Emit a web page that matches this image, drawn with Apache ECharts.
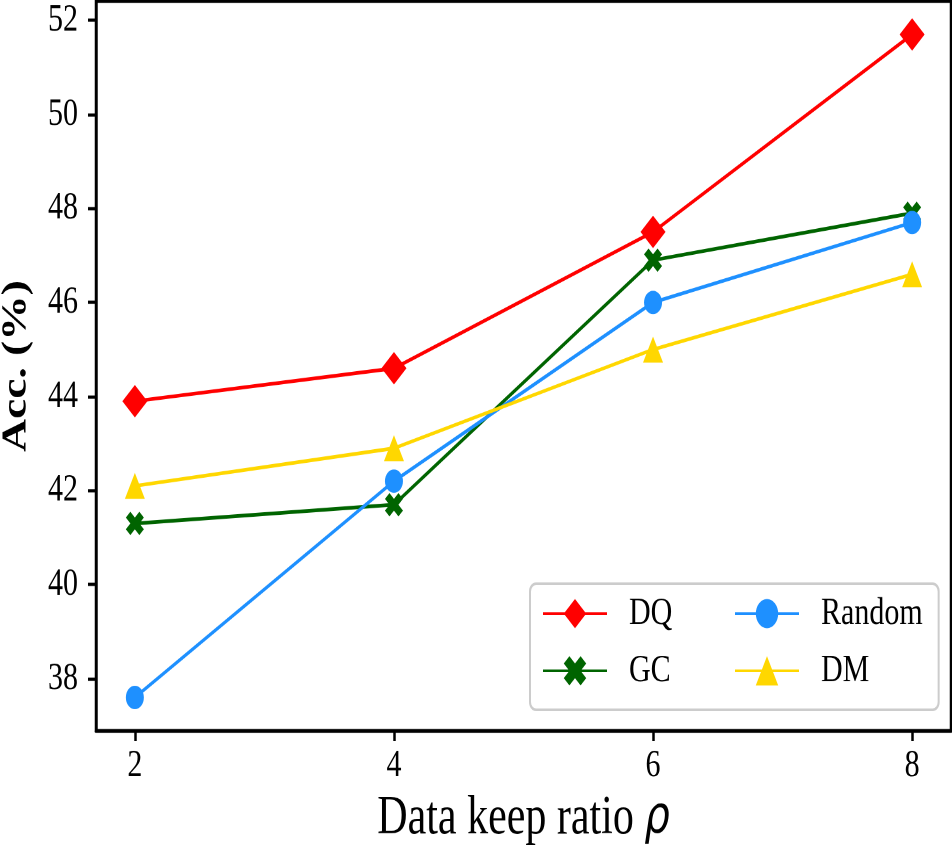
<!DOCTYPE html>
<html>
<head>
<meta charset="utf-8">
<script src="https://cdn.jsdelivr.net/npm/echarts@6/dist/echarts.min.js"></script>
<style>
  html, body { margin: 0; padding: 0; background: #fff; overflow: hidden; }
  #wrap { width: 952px; height: 858px; overflow: hidden; }
  /* the picture is stretched vertically, so draw flat and stretch */
  #chart { width: 952px; height: 660px; transform: scaleY(1.3); transform-origin: 0 0; }
</style>
</head>
<body>
<div id="wrap"><div id="chart"></div></div>
<script>
// keep ratio on x, accuracy (%) on y
var ratios = [2, 4, 6, 8];
var dq     = [43.9, 44.6, 47.5, 51.7];
var gc     = [41.3, 41.7, 46.9, 47.9];
var rnd    = [37.6, 42.2, 46.0, 47.7];
var dm     = [42.1, 42.9, 45.0, 46.6];
var yTicks = [38, 40, 42, 44, 46, 48, 50, 52];
var xTicks = [2, 4, 6, 8];

var serif = "'Liberation Serif', 'Times New Roman', serif";
var xMark = 'path://M1,0 L2,1 L3,0 L4,1 L3,2 L4,3 L3,4 L2,3 L1,4 L0,3 L1,2 L0,1 Z';

function pairs(vals) {
    return ratios.map(function (r, i) { return [r, vals[i]]; });
}

function makeSeries(name, vals, color, symbol, size) {
    return {
        name: name,
        type: 'line',
        data: pairs(vals),
        symbol: symbol,
        symbolSize: size,
        showAllSymbol: true,
        lineStyle: { color: color, width: 2.8 },
        itemStyle: { color: color },
        emphasis: { disabled: true },
        animation: false
    };
}

var myChart = echarts.init(document.getElementById('chart'), null, { devicePixelRatio: 2 });
var option = {
    animation: false,
    grid: {
        left: 96, right: 1, top: 1, bottom: 98,
        outerBoundsMode: 'none',
        containLabel: false,
        show: true, borderColor: '#000', borderWidth: 2.5
    },
    legend: {
        data: ['DQ', 'Random', 'GC', 'DM'],
        left: 530, top: 449,
        width: 400,
        orient: 'horizontal',
        itemWidth: 64, itemHeight: 28, itemGap: 14,
        padding: [8, 16, 15, 12],
        backgroundColor: '#fff',
        borderColor: '#cccccc', borderWidth: 2, borderRadius: 6,
        textStyle: {
            fontFamily: serif, fontSize: 30, color: '#000',
            lineHeight: 30, width: 91, padding: [0, 0, 0, 17]
        }
    },
    xAxis: {
        type: 'value',
        min: 1.7, max: 8.3,
        name: 'Data keep ratio {i|ρ}',
        nameLocation: 'middle',
        nameGap: 40,
        nameTextStyle: {
            fontFamily: serif, fontSize: 42, color: '#000',
            rich: { i: { fontFamily: "'DejaVu Sans', sans-serif", fontStyle: 'italic', fontSize: 40, color: '#000' } }
        },
        axisLine: { lineStyle: { color: '#000', width: 2.5 } },
        axisTick: { show: true, length: 8, lineStyle: { color: '#000', width: 2.5 }, customValues: xTicks },
        axisLabel: { fontFamily: serif, fontSize: 30, color: '#000', margin: 12, customValues: xTicks },
        splitLine: { show: false }
    },
    yAxis: {
        type: 'value',
        min: 36.895, max: 52.405,
        name: 'Acc. (%)',
        nameLocation: 'middle',
        nameGap: 62,
        nameTextStyle: { fontFamily: serif, fontSize: 35, fontWeight: 'bold', color: '#000' },
        axisLine: { show: true, lineStyle: { color: '#000', width: 2.5 } },
        axisTick: { show: true, length: 8, lineStyle: { color: '#000', width: 2.5 }, customValues: yTicks },
        axisLabel: { fontFamily: serif, fontSize: 30, color: '#000', margin: 18, customValues: yTicks },
        splitLine: { show: false }
    },
    series: [
        makeSeries('DQ', dq, '#ff0000', 'diamond', 25),
        makeSeries('GC', gc, '#006400', xMark, 18),
        makeSeries('Random', rnd, '#1e90ff', 'circle', 18),
        makeSeries('DM', dm, '#ffd700', 'triangle', 20)
    ]
};
myChart.setOption(option);
</script>
</body>
</html>
